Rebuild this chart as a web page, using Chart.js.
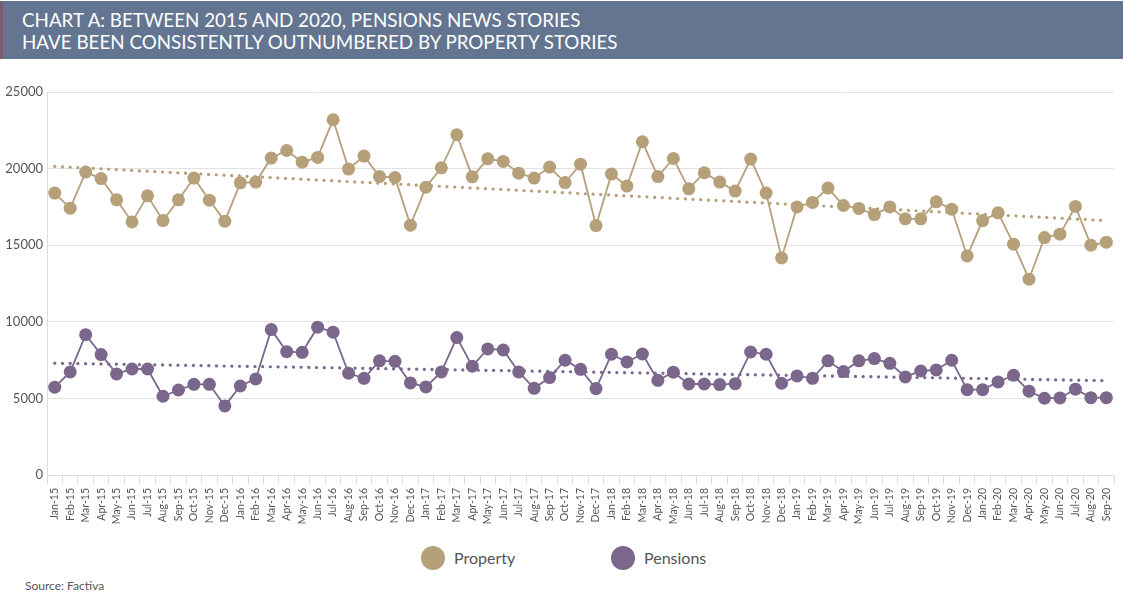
<!DOCTYPE html>
<html>
<head>
<meta charset="utf-8">
<script src="https://cdn.jsdelivr.net/npm/chart.js@4.4.1/dist/chart.umd.min.js"></script>
<style>
	body{margin:0;background:#fff;font-family:Lato,"Open Sans",sans-serif;width:1123px;height:614px;position:relative;overflow:hidden;}
	.banner{position:absolute;left:0;top:1px;width:1120px;height:58px;background:#647591;border-left:3px solid #7d5b6e;}
	.banner div{position:absolute;left:19px;color:#fff;font-size:18.8px;line-height:22px;white-space:nowrap;}
	#chart{position:absolute;left:0;top:60px;}
	.legend{position:absolute;top:546px;font-size:16px;color:#555;line-height:24px;white-space:nowrap;}
	.legend span{display:inline-block;width:24px;height:24px;border-radius:50%;vertical-align:top;margin-right:9px;}
	.source{position:absolute;left:25px;top:578px;font-size:12px;color:#555;}
</style>
</head>
<body>
<div class="banner">
	<div style="top:8px">CHART A: BETWEEN 2015 AND 2020, PENSIONS NEWS STORIES</div>
	<div style="top:30px">HAVE BEEN CONSISTENTLY OUTNUMBERED BY PROPERTY STORIES</div>
</div>
<canvas id="chart" width="1123" height="480"></canvas>
<div class="legend" style="left:421px"><span style="background:#b5a07a"></span>Property</div>
<div class="legend" style="left:611px"><span style="background:#7b668c"></span>Pensions</div>
<div class="source">Source: Factiva</div>
<script>
var months=["Jan-15","Feb-15","Mar-15","Apr-15","May-15","Jun-15","Jul-15","Aug-15","Sep-15","Oct-15","Nov-15","Dec-15",
	"Jan-16","Feb-16","Mar-16","Apr-16","May-16","Jun-16","Jul-16","Aug-16","Sep-16","Oct-16","Nov-16","Dec-16",
	"Jan-17","Feb-17","Mar-17","Apr-17","May-17","Jun-17","Jul-17","Aug-17","Sep-17","Oct-17","Nov-17","Dec-17",
	"Jan-18","Feb-18","Mar-18","Apr-18","May-18","Jun-18","Jul-18","Aug-18","Sep-18","Oct-18","Nov-18","Dec-18",
	"Jan-19","Feb-19","Mar-19","Apr-19","May-19","Jun-19","Jul-19","Aug-19","Sep-19","Oct-19","Nov-19","Dec-19",
	"Jan-20","Feb-20","Mar-20","Apr-20","May-20","Jun-20","Jul-20","Aug-20","Sep-20"];
var property=[18400,17420,19770,19350,17960,16520,18220,16610,17960,19380,17940,16570,
	19070,19120,20690,21180,20420,20730,23190,19970,20820,19480,19420,16310,
	18790,20050,22210,19460,20640,20470,19700,19380,20100,19090,20290,16280,
	19640,18860,21750,19480,20660,18680,19730,19120,18530,20620,18400,14170,
	17500,17790,18730,17590,17400,17000,17500,16720,16720,17830,17350,14300,
	16610,17110,15070,12780,15500,15720,17530,15000,15200];
var pensions=[5730,6730,9160,7860,6600,6920,6920,5140,5550,5920,5920,4510,
	5810,6270,9490,8050,8010,9650,9320,6640,6310,7450,7420,6010,
	5750,6730,8970,7100,8230,8160,6730,5660,6360,7490,6900,5640,
	7880,7380,7900,6180,6710,5940,5940,5900,5960,8030,7880,5990,
	6470,6310,7450,6750,7450,7600,7290,6400,6790,6860,7490,5570,
	5570,6070,6510,5470,5010,5030,5600,5050,5050];
// trend line ends (first and last month)
var propertyTrend=[20140,16610];
var pensionsTrend=[7300,6160];
var yTicks=[0,5000,10000,15000,20000,25000];

var propertyColor="#b5a07a";
var pensionsColor="#7b668c";

function trendData(ends){
	return [{x:months[0],y:ends[0]},{x:months[months.length-1],y:ends[1]}];
}
function series(label,data,color){
	return {label:label,data:data,borderColor:color,backgroundColor:color,borderWidth:1.8,
		pointRadius:6.5,pointHoverRadius:6.5,pointBorderWidth:0,tension:0,order:0};
}
function trend(label,ends,color){
	return {label:label,data:trendData(ends),borderColor:color,borderWidth:3.2,borderDash:[0.1,7.6],
		borderCapStyle:"round",pointRadius:0,fill:false,order:1};
}

Chart.defaults.font.family="Lato, 'Open Sans', sans-serif";
Chart.defaults.color="#555";

new Chart("chart",{
	type:"line",
	data:{
		labels:months,
		datasets:[
			series("Property",property,propertyColor),
			series("Pensions",pensions,pensionsColor),
			trend("Property trend",propertyTrend,propertyColor),
			trend("Pensions trend",pensionsTrend,pensionsColor)
		]
	},
	options:{
		responsive:false,
		animation:false,
		layout:{padding:{top:32,right:7,left:0,bottom:0}},
		plugins:{legend:{display:false},tooltip:{enabled:false}},
		scales:{
			x:{
				offset:true,
				grid:{offset:true,drawOnChartArea:false,drawTicks:true,tickLength:9,color:"#dcdcdc"},
				border:{color:"#dcdcdc"},
				ticks:{autoSkip:false,minRotation:90,maxRotation:90,padding:4,font:{size:10.5},color:"#555"},
				afterFit:function(scale){scale.height=65;}
			},
			y:{
				min:0,max:25000,
				afterBuildTicks:function(scale){scale.ticks=yTicks.map(function(v){return {value:v};});},
				grid:{color:"#e2e2e2",drawTicks:false},
				border:{color:"#dcdcdc"},
				ticks:{padding:4,font:{size:13},color:"#555",callback:function(v){return String(v);}},
				afterFit:function(scale){scale.width=47;}
			}
		}
	}
});
</script>
</body>
</html>
